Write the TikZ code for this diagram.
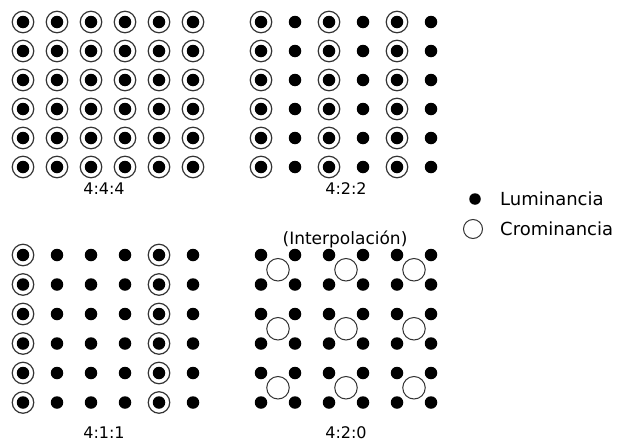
\documentclass[tikz,border=0pt]{standalone}
\usepackage{fontspec}
\setmainfont{DejaVu Sans}

\begin{document}
\begin{tikzpicture}[x=1pt,y=-1pt,luma/.style={circle,fill=black,minimum size=12.5pt,inner sep=0pt},chroma/.style={circle,draw=black!80,line width=1.2pt,minimum size=21.5pt,inner sep=0pt},ratio/.style={inner sep=0pt,font=\fontsize{16}{19}\selectfont},keytext/.style={anchor=west,inner sep=0pt,font=\fontsize{18}{21}\selectfont}]
\useasboundingbox (0,0) rectangle (619,442);
% 4:4:4
\foreach \i in {0,...,5}
  \foreach \j in {0,...,5} {
    \node[chroma] (ar\i\j) at (23+34*\i,22+29*\j) {};
    \node[luma] (ad\i\j) at (ar\i\j) {};
  }
\node[ratio] (alabel) at (104,189) {4:4:4};
% 4:2:2
\foreach \i in {0,...,5}
  \foreach \j in {0,...,5}
    \node[luma] (bd\i\j) at (261+34*\i,22+29*\j) {};
\foreach \i in {0,2,4}
  \foreach \j in {0,...,5}
    \node[chroma] (br\i\j) at (bd\i\j) {};
\node[ratio] (blabel) at (346,189) {4:2:2};
% 4:1:1
\foreach \i in {0,...,5}
  \foreach \j in {0,...,5}
    \node[luma] (cd\i\j) at (23+34*\i,255+29.5*\j) {};
\foreach \i in {0,4}
  \foreach \j in {0,...,5}
    \node[chroma] (cr\i\j) at (cd\i\j) {};
\node[ratio] (clabel) at (104,433) {4:1:1};
% 4:2:0
\foreach \i in {0,...,5}
  \foreach \j in {0,...,5}
    \node[luma] (dd\i\j) at (261+34*\i,255+29.5*\j) {};
\foreach \i in {0,1,2}
  \foreach \j in {0,1,2}
    \node[chroma,line width=1pt,minimum size=22.5pt] (dr\i\j) at (278+68*\i,269.75+59*\j) {};
\node[ratio] (dlabel) at (346,433) {4:2:0};
\node[inner sep=0pt,font=\fontsize{17}{20}\selectfont] (dnote) at (345,239) {(Interpolación)};
% key
\node[luma,minimum size=11.5pt] (lumkey) at (475,199) {};
\node[chroma,line width=1pt,minimum size=19pt] (cromkey) at (473,229) {};
\node[keytext] (lumtext) at (500,199) {Luminancia};
\node[keytext] (cromtext) at (500,229) {Crominancia};
\end{tikzpicture}
\end{document}
